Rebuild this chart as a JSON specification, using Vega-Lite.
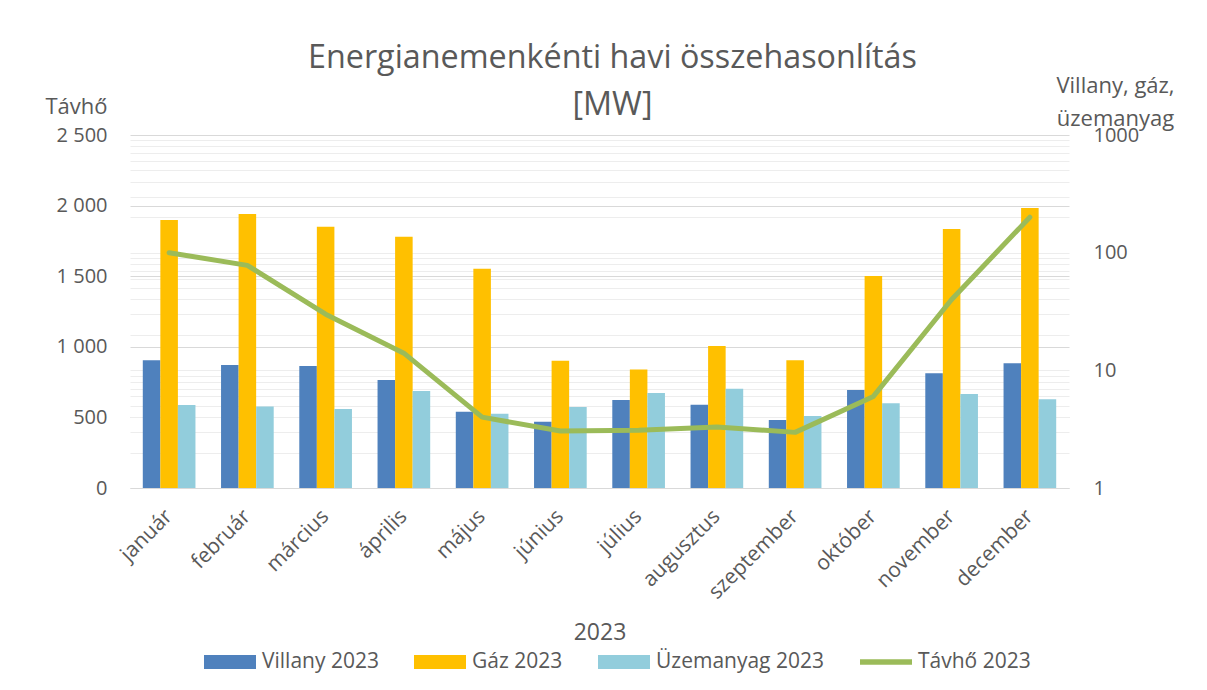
{
  "$schema": "https://vega.github.io/schema/vega-lite/v6.json",
  "width": 939,
  "height": 353,
  "autosize": {"type": "none"},
  "padding": {"left": 130, "top": 135, "right": 138, "bottom": 202},
  "background": "white",
  "config": {
    "font": "Open Sans",
    "view": {"stroke": null},
    "axis": {"labelColor": "#595959", "titleColor": "#595959", "labelFont": "Open Sans", "titleFont": "Open Sans", "titleFontWeight": "normal"}
  },
  "title": {
    "text": ["Energianemenkénti havi összehasonlítás", "[MW]"],
    "fontSize": 32.3,
    "font": "Open Sans",
    "fontWeight": "normal",
    "color": "#595959",
    "lineHeight": 47,
    "anchor": "middle",
    "baseline": "alphabetic",
    "offset": 10,
    "dy": 83,
    "dx": 13
  },
  "datasets": {
    "d": [
      {"month": "január", "series": "Villany 2023", "value": 904},
      {"month": "január", "series": "Gáz 2023", "value": 1898},
      {"month": "január", "series": "Üzemanyag 2023", "value": 588},
      {"month": "február", "series": "Villany 2023", "value": 871},
      {"month": "február", "series": "Gáz 2023", "value": 1940},
      {"month": "február", "series": "Üzemanyag 2023", "value": 578},
      {"month": "március", "series": "Villany 2023", "value": 864},
      {"month": "március", "series": "Gáz 2023", "value": 1851},
      {"month": "március", "series": "Üzemanyag 2023", "value": 559},
      {"month": "április", "series": "Villany 2023", "value": 765},
      {"month": "április", "series": "Gáz 2023", "value": 1779},
      {"month": "április", "series": "Üzemanyag 2023", "value": 687},
      {"month": "május", "series": "Villany 2023", "value": 540},
      {"month": "május", "series": "Gáz 2023", "value": 1553},
      {"month": "május", "series": "Üzemanyag 2023", "value": 526},
      {"month": "június", "series": "Villany 2023", "value": 470},
      {"month": "június", "series": "Gáz 2023", "value": 902},
      {"month": "június", "series": "Üzemanyag 2023", "value": 574},
      {"month": "július", "series": "Villany 2023", "value": 623},
      {"month": "július", "series": "Gáz 2023", "value": 840},
      {"month": "július", "series": "Üzemanyag 2023", "value": 673},
      {"month": "augusztus", "series": "Villany 2023", "value": 590},
      {"month": "augusztus", "series": "Gáz 2023", "value": 1006},
      {"month": "augusztus", "series": "Üzemanyag 2023", "value": 703},
      {"month": "szeptember", "series": "Villany 2023", "value": 482},
      {"month": "szeptember", "series": "Gáz 2023", "value": 904},
      {"month": "szeptember", "series": "Üzemanyag 2023", "value": 510},
      {"month": "október", "series": "Villany 2023", "value": 694},
      {"month": "október", "series": "Gáz 2023", "value": 1501},
      {"month": "október", "series": "Üzemanyag 2023", "value": 600},
      {"month": "november", "series": "Villany 2023", "value": 812},
      {"month": "november", "series": "Gáz 2023", "value": 1834},
      {"month": "november", "series": "Üzemanyag 2023", "value": 666},
      {"month": "december", "series": "Villany 2023", "value": 883},
      {"month": "december", "series": "Gáz 2023", "value": 1983},
      {"month": "december", "series": "Üzemanyag 2023", "value": 628},
      {"month": "január", "series": "Távhő 2023", "value": 100},
      {"month": "február", "series": "Távhő 2023", "value": 78},
      {"month": "március", "series": "Távhő 2023", "value": 30},
      {"month": "április", "series": "Távhő 2023", "value": 14},
      {"month": "május", "series": "Távhő 2023", "value": 4},
      {"month": "június", "series": "Távhő 2023", "value": 3.05},
      {"month": "július", "series": "Távhő 2023", "value": 3.1},
      {"month": "augusztus", "series": "Távhő 2023", "value": 3.3},
      {"month": "szeptember", "series": "Távhő 2023", "value": 2.97},
      {"month": "október", "series": "Távhő 2023", "value": 6},
      {"month": "november", "series": "Távhő 2023", "value": 40},
      {"month": "december", "series": "Távhő 2023", "value": 200}
    ]
  },
  "data": {"name": "d"},
  "encoding": {
    "x": {
      "field": "month",
      "type": "nominal",
      "sort": null,
      "scale": {"paddingInner": 0.327, "paddingOuter": 0.1635},
      "axis": {
        "title": "2023",
        "titleFontSize": 23,
        "titleY": 151,
        "titleBaseline": "alphabetic",
        "labelAngle": -45,
        "labelAlign": "right",
        "labelBaseline": "middle",
        "labelFontSize": 21,
        "labelPadding": 25,
        "ticks": false,
        "domain": true,
        "domainColor": "#d9d9d9",
        "domainWidth": 1,
        "grid": false
      }
    },
    "color": {
      "field": "series",
      "type": "nominal",
      "sort": null,
      "scale": {
        "domain": ["Villany 2023", "Gáz 2023", "Üzemanyag 2023", "Távhő 2023"],
        "range": ["#4f81bd", "#ffc000", "#92cddc", "#9bbb59"]
      },
      "legend": {
        "orient": "none",
        "legendX": 74,
        "legendY": 501,
        "direction": "horizontal",
        "columns": 4,
        "title": null,
        "labelFontSize": 21,
        "labelColor": "#595959",
        "labelFont": "Open Sans",
        "labelLimit": 400,
        "symbolSize": 2704,
        "symbolType": "M-1,-0.27H1V0.27H-1Z",
        "symbolStrokeWidth": 0,
        "labelOffset": 6,
        "columnPadding": 35,
        "encode": {
          "symbols": {
            "update": {
              "shape": {"signal": "datum.value === 'Távhő 2023' ? 'M-1,-0.11H1V0.11H-1Z' : 'M-1,-0.27H1V0.27H-1Z'"},
              "fill": {"signal": "scale('color', datum.value)"},
              "strokeWidth": {"value": 0},
              "opacity": {"value": 1}
            }
          }
        }
      }
    }
  },
  "layer": [
    {
      "transform": [{"filter": "datum.series !== 'Távhő 2023'"}],
      "mark": {"type": "bar"},
      "encoding": {
        "xOffset": {"field": "series", "type": "nominal", "sort": null, "scale": {"paddingInner": 0, "paddingOuter": 0}},
        "y": {
          "field": "value",
          "type": "quantitative",
          "scale": {"domain": [0, 2500], "nice": false},
          "axis": {
            "orient": "left",
            "values": [0, 500, 1000, 1500, 2000, 2500],
            "labelExpr": "replace(format(datum.value, ','), ',', ' ')",
            "labelFontSize": 20,
            "labelPadding": 23,
            "ticks": false,
            "domain": false,
            "grid": true,
            "gridColor": "#d9d9d9",
            "gridWidth": 1,
            "title": "Távhő",
            "titleAngle": 0,
            "titleAlign": "right",
            "titleBaseline": "alphabetic",
            "titleX": -23,
            "titleY": -22,
            "titleFontSize": 22
          }
        }
      }
    },
    {
      "transform": [{"filter": "datum.series === 'Távhő 2023'"}],
      "mark": {"type": "line", "strokeWidth": 5, "strokeCap": "round", "strokeJoin": "round"},
      "encoding": {
        "y": {
          "field": "value",
          "type": "quantitative",
          "scale": {"type": "log", "domain": [1, 1000], "nice": false},
          "axis": {
            "orient": "right",
            "values": [1, 2, 3, 4, 5, 6, 7, 8, 9, 10, 20, 30, 40, 50, 60, 70, 80, 90, 100, 200, 300, 400, 500, 600, 700, 800, 900, 1000],
            "labelExpr": "(datum.value == 1 || datum.value == 10 || datum.value == 100 || datum.value == 1000) ? format(datum.value, 'd') : ''",
            "labelOverlap": false,
            "labelFontSize": 20,
            "labelPadding": 24,
            "labelAlign": "left",
            "ticks": false,
            "domain": false,
            "grid": true,
            "gridColor": "#ededed",
            "gridOpacity": {"condition": {"test": "datum.value == 1 || datum.value == 1000", "value": 0}, "value": 1},
            "title": ["Villany, gáz,", "üzemanyag"],
            "titleAngle": 0,
            "titleAlign": "center",
            "titleBaseline": "alphabetic",
            "titleX": 46,
            "titleY": -43,
            "titleFontSize": 22,
            "titleLineHeight": 33
          }
        }
      }
    }
  ],
  "resolve": {"scale": {"y": "independent"}}
}
